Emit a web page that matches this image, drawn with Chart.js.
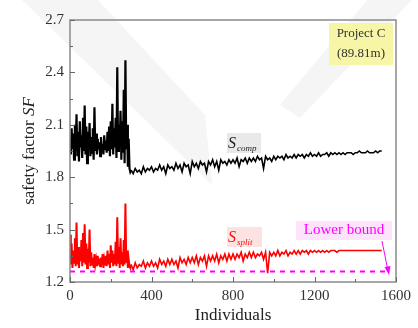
<!DOCTYPE html>
<html>
<head>
<meta charset="utf-8">
<script src="https://cdn.jsdelivr.net/npm/chart.js@4"></script>
<style>
  html, body { margin: 0; padding: 0; background: #fff; }
  #wrap { width: 418px; height: 328px; position: relative; }
</style>
</head>
<body>
<div id="wrap"><canvas id="chart-canvas"></canvas></div>
<script>
// individuals sampled for the noisy early phase, then the settled phase
const earlyX = [0,4,8,12,16,20,24,28,32,36,40,44,48,52,56,60,64,68,72,76,80,84,88,92,96,100,104,108,112,116,120,124,128,132,136,140,144,148,152,156,160,164,168,172,176,180,184,188,192,196,200,204,208,212,216,220,224,228,232,236,240,244,248,252,256,260,264,268,272,276,280,284,288,292,296];
const lateX = [300,310,320,330,340,350,360,370,380,390,400,410,420,430,440,450,460,470,480,490,500,510,520,530,540,550,560,570,580,590,600,610,620,630,640,650,660,670,680,690,700,710,720,730,740,750,760,770,780,790,800,810,820,830,840,850,860,870,880,890,900,910,920,930,940,950,960,970,980,990,1000,1010,1020,1030,1040,1050,1060,1070,1080,1090,1100,1110,1120,1130,1140,1150,1160,1170,1180,1190,1200,1210,1220,1230,1240,1250,1260,1270,1280,1290,1300,1310,1320,1330,1340,1350,1360,1370,1380,1390,1400,1410,1420,1430,1440,1450,1460,1470,1480,1490,1500,1510,1520,1530];

const compEarly = [2.02,1.93,2.08,1.96,2.05,1.90,2.10,1.95,2.16,1.92,2.06,1.89,2.12,1.97,2.04,1.91,2.14,1.95,2.21,1.93,2.09,1.88,2.06,1.96,2.11,1.92,2.03,1.94,2.08,1.90,2.20,1.95,2.05,1.93,2.02,1.96,2.00,1.92,2.03,1.95,1.99,1.93,2.04,1.96,2.01,1.94,2.06,1.95,2.09,1.92,2.12,1.96,2.22,1.93,2.08,1.97,2.14,1.91,2.43,1.95,2.10,1.98,2.18,1.90,2.12,1.94,2.30,1.88,2.47,1.96,2.10,1.86,2.02,1.85,1.83];
const compLate = [
  1.84,1.82,1.85,1.83,1.84,1.82,1.86,1.83,1.85,1.84,
  1.86,1.83,1.85,1.84,1.87,1.84,1.86,1.82,1.87,1.85,
  1.86,1.84,1.88,1.85,1.87,1.83,1.88,1.86,1.87,1.82,
  1.89,1.86,1.88,1.85,1.89,1.87,1.88,1.83,1.89,1.87,
  1.90,1.86,1.89,1.84,1.90,1.88,1.89,1.87,1.90,1.88,
  1.90,1.88,1.91,1.86,1.90,1.89,1.91,1.88,1.91,1.89,
  1.91,1.89,1.92,1.90,1.91,1.85,1.92,1.90,1.91,1.89,
  1.92,1.90,1.92,1.91,1.92,1.90,1.93,1.91,1.92,1.91,
  1.93,1.91,1.93,1.92,1.93,1.91,1.93,1.92,1.94,1.92,
  1.93,1.92,1.94,1.92,1.93,1.93,1.94,1.92,1.94,1.93,
  1.94,1.93,1.94,1.93,1.94,1.93,1.94,1.94,1.94,1.93,
  1.94,1.94,1.95,1.94,1.94,1.94,1.95,1.94,1.94,1.94,
  1.95,1.94,1.95,1.95];

const splitEarly = [1.47,1.30,1.42,1.28,1.38,1.31,1.45,1.29,1.54,1.30,1.40,1.28,1.36,1.32,1.44,1.29,1.48,1.31,1.53,1.30,1.42,1.28,1.39,1.31,1.50,1.29,1.37,1.30,1.34,1.28,1.36,1.30,1.33,1.29,1.35,1.31,1.32,1.29,1.34,1.30,1.36,1.28,1.33,1.30,1.35,1.29,1.38,1.30,1.36,1.28,1.41,1.31,1.38,1.29,1.36,1.30,1.43,1.29,1.57,1.31,1.40,1.28,1.45,1.30,1.37,1.29,1.44,1.30,1.65,1.31,1.38,1.28,1.33,1.29,1.28];
const splitLate = [
  1.30,1.27,1.31,1.28,1.30,1.29,1.32,1.28,1.31,1.29,
  1.32,1.29,1.31,1.28,1.33,1.30,1.32,1.29,1.33,1.30,
  1.33,1.30,1.32,1.28,1.34,1.31,1.33,1.30,1.34,1.31,
  1.34,1.31,1.35,1.30,1.34,1.32,1.35,1.29,1.35,1.32,
  1.35,1.32,1.36,1.31,1.35,1.33,1.36,1.32,1.36,1.33,
  1.36,1.33,1.36,1.34,1.37,1.32,1.36,1.34,1.37,1.34,
  1.37,1.34,1.36,1.35,1.37,1.33,1.37,1.25,1.37,1.35,
  1.37,1.35,1.38,1.35,1.37,1.36,1.38,1.35,1.37,1.36,
  1.38,1.36,1.38,1.36,1.38,1.37,1.38,1.36,1.38,1.37,
  1.38,1.37,1.38,1.37,1.38,1.37,1.38,1.37,1.38,1.38,
  1.38,1.37,1.38,1.38,1.38,1.38,1.38,1.38,1.38,1.38,
  1.38,1.38,1.38,1.38,1.38,1.38,1.38,1.38,1.38,1.38,
  1.38,1.38,1.38,1.38];

const boundX = [0, 1560];
const boundY = [1.26, 1.26];

const xTicks = [0, 400, 800, 1200, 1600];
const yTicks = [1.2, 1.5, 1.8, 2.1, 2.4, 2.7];

const serif = '"Liberation Serif", "DejaVu Serif", serif';

function toPoints(xs, ys) {
    return xs.map((x, i) => ({ x: x, y: ys[i] }));
}

// thicker strokes in the noisy first 300 individuals
const earlyWidth = (wide, thin) => ctx => (ctx.p0.parsed.x < 300 ? wide : thin);

// faint watermark, frame, inward ticks, annotations
const decorPlugin = {
    id: 'decor',
    beforeDraw(chart) {
        const ctx = chart.ctx;
        ctx.save();
        ctx.fillStyle = '#f5f5f5';
        ctx.beginPath();
        ctx.moveTo(22, 0);
        ctx.lineTo(98, 0);
        ctx.lineTo(205, 115);
        ctx.lineTo(212, 185);
        ctx.closePath();
        ctx.fill();
        ctx.beginPath();
        ctx.moveTo(367, 0);
        ctx.lineTo(412, 0);
        ctx.lineTo(300, 118);
        ctx.lineTo(280, 105);
        ctx.closePath();
        ctx.fill();
        ctx.restore();
    },
    beforeDatasetsDraw(chart) {
        const ctx = chart.ctx;
        ctx.save();
        // label boxes behind the lines
        ctx.fillStyle = '#e9e9e9';
        ctx.fillRect(227, 133, 34, 20);
        ctx.fillStyle = '#fde2e2';
        ctx.fillRect(227, 227, 35, 20);
        ctx.fillStyle = '#fde3fb';
        ctx.fillRect(296, 221, 96, 19);
        ctx.fillStyle = '#f7f5a6';
        ctx.fillRect(329, 23, 64, 42);
        ctx.restore();
    },
    afterDatasetsDraw(chart) {
        const ctx = chart.ctx;
        const a = chart.chartArea;
        const xs = chart.scales.x, ys = chart.scales.y;
        ctx.save();
        ctx.strokeStyle = '#8a8a8a';
        ctx.lineWidth = 1.5;
        ctx.strokeRect(a.left, a.top, a.right - a.left, a.bottom - a.top);

        ctx.lineWidth = 1;
        ctx.strokeStyle = '#666';
        for (let v = 0; v <= 1600; v += 200) {
            const px = Math.round(xs.getPixelForValue(v)) + 0.5;
            const len = v % 400 === 0 ? 5 : 3;
            ctx.beginPath();
            ctx.moveTo(px, a.bottom);
            ctx.lineTo(px, a.bottom - len);
            ctx.stroke();
        }
        for (let i = 0; i <= 10; i++) {
            const v = 1.2 + i * 0.15;
            const py = Math.round(ys.getPixelForValue(v)) + 0.5;
            const len = i % 2 === 0 ? 5 : 3;
            ctx.beginPath();
            ctx.moveTo(a.left, py);
            ctx.lineTo(a.left + len, py);
            ctx.stroke();
        }

        // y axis title with italic SF
        ctx.save();
        ctx.translate(30, (a.top + a.bottom) / 2);
        ctx.rotate(-Math.PI / 2);
        ctx.fillStyle = '#222';
        ctx.textBaseline = 'middle';
        ctx.textAlign = 'left';
        ctx.font = '17px ' + serif;
        const t1 = 'safety factor ';
        const w1 = ctx.measureText(t1).width;
        ctx.font = 'italic 17px ' + serif;
        const w2 = ctx.measureText('SF').width;
        const x0 = -(w1 + w2) / 2;
        ctx.font = '17px ' + serif;
        ctx.fillText(t1, x0, 0);
        ctx.font = 'italic 17px ' + serif;
        ctx.fillText('SF', x0 + w1, 0);
        ctx.restore();

        // Project box text
        ctx.fillStyle = '#333';
        ctx.font = '13px ' + serif;
        ctx.textAlign = 'center';
        ctx.textBaseline = 'middle';
        ctx.fillText('Project C', 361, 34);
        ctx.fillText('(89.81m)', 361, 54);

        // S_comp
        ctx.textAlign = 'left';
        ctx.textBaseline = 'alphabetic';
        ctx.fillStyle = '#222';
        ctx.font = 'italic 16px ' + serif;
        ctx.fillText('S', 228, 148);
        ctx.font = 'italic 9px ' + serif;
        ctx.fillText('comp', 237, 151);

        // S_split
        ctx.fillStyle = '#ff1010';
        ctx.font = 'italic 16px ' + serif;
        ctx.fillText('S', 228, 242);
        ctx.font = 'italic 9px ' + serif;
        ctx.fillText('split', 237, 245);

        // Lower bound label and arrow
        ctx.fillStyle = '#ff00ff';
        ctx.font = '15px ' + serif;
        ctx.textAlign = 'center';
        ctx.textBaseline = 'middle';
        ctx.fillText('Lower bound', 344, 230);
        ctx.strokeStyle = '#ff00ff';
        ctx.lineWidth = 1;
        ctx.beginPath();
        ctx.moveTo(382, 241);
        ctx.lineTo(388, 271);
        ctx.stroke();
        ctx.beginPath();
        ctx.moveTo(389, 275);
        ctx.lineTo(384.5, 267);
        ctx.lineTo(390.5, 266);
        ctx.closePath();
        ctx.fill();
        ctx.restore();
    }
};

new Chart(document.getElementById('chart-canvas'), {
    type: 'line',
    data: {
        datasets: [
            {
                label: 'Lower bound',
                data: toPoints(boundX, boundY),
                borderColor: '#ff00ff',
                borderWidth: 2,
                borderDash: [5, 5],
                pointRadius: 0
            },
            {
                label: 'Ssplit',
                data: toPoints(earlyX.concat(lateX), splitEarly.concat(splitLate)),
                borderColor: '#ff0000',
                borderWidth: 1.6,
                segment: { borderWidth: earlyWidth(2.0, 1.6) },
                pointRadius: 0,
                tension: 0
            },
            {
                label: 'Scomp',
                data: toPoints(earlyX.concat(lateX), compEarly.concat(compLate)),
                borderColor: '#000000',
                borderWidth: 1.6,
                segment: { borderWidth: earlyWidth(2.2, 1.6) },
                pointRadius: 0,
                tension: 0
            }
        ]
    },
    options: {
        responsive: true,
        maintainAspectRatio: false,
        animation: false,
        layout: { padding: { left: 0, right: 22, top: 20, bottom: 0 } },
        plugins: {
            legend: { display: false },
            tooltip: { enabled: false }
        },
        scales: {
            x: {
                type: 'linear',
                min: 0,
                max: 1600,
                afterBuildTicks: s => { s.ticks = xTicks.map(v => ({ value: v })); },
                afterFit: s => { s.height = 46; },
                grid: { display: false, drawTicks: false },
                border: { display: false },
                ticks: {
                    color: '#333',
                    padding: 5,
                    maxRotation: 0,
                    font: { family: serif, size: 15 },
                    callback: v => String(v)
                },
                title: {
                    display: true,
                    text: 'Individuals',
                    color: '#222',
                    padding: { top: 0, bottom: 2 },
                    font: { family: serif, size: 17 }
                }
            },
            y: {
                type: 'linear',
                min: 1.2,
                max: 2.7,
                afterBuildTicks: s => { s.ticks = yTicks.map(v => ({ value: v })); },
                afterFit: s => { s.width = 70; },
                grid: { display: false, drawTicks: false },
                border: { display: false },
                ticks: {
                    color: '#333',
                    padding: 6,
                    font: { family: serif, size: 15 },
                    callback: v => v.toFixed(1)
                },
                title: { display: false }
            }
        }
    },
    plugins: [decorPlugin]
});
</script>
</body>
</html>
